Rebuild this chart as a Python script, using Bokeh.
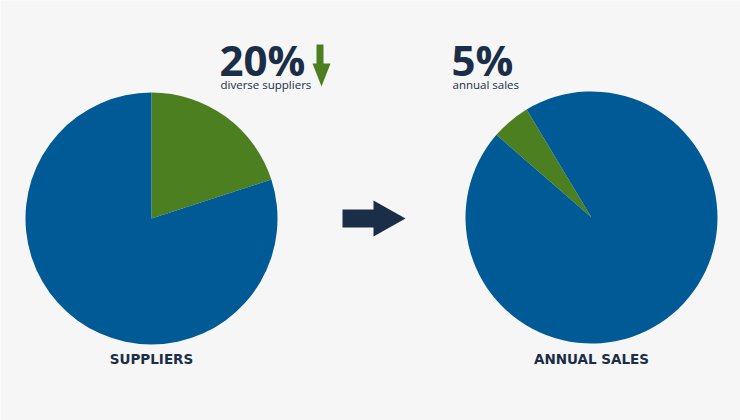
from bokeh.plotting import figure
from bokeh.models import Range1d, ColumnDataSource
from bokeh.embed import file_html
from bokeh.resources import INLINE
from bokeh.core.properties import value
import numpy as np

# ---- data ----
supplier_categories = ["Diverse suppliers", "Other suppliers"]
supplier_values = [20, 80]
sales_categories = ["Diverse suppliers", "Other suppliers"]
sales_values = [5, 95]
slice_colors = ["#4c7f1f", "#005a96"]
pie_titles = ["SUPPLIERS", "ANNUAL SALES"]
headline_values = ["20%", "5%"]
headline_labels = ["diverse suppliers", "annual sales"]

BG = "#f6f6f6"
NAVY = "#1b2e48"
GREEN = "#4c7f1f"

H = 420  # reference pixel height; y_up = H - y_pix

p = figure(width=740, height=420, output_backend="svg", toolbar_location=None,
           x_range=Range1d(0, 740), y_range=Range1d(0, 420),
           min_border=0, outline_line_color=None,
           background_fill_color=BG, border_fill_color=BG)
p.axis.visible = False
p.grid.visible = False


def pie(cx, cy, r, values, offset):
    vals = np.array(values, dtype=float)
    frac = vals / vals.sum() * 360.0
    cum = np.concatenate([[0], np.cumsum(frac)])
    starts = offset - cum[:-1]
    ends = offset - cum[1:]
    src = ColumnDataSource(dict(start=starts, end=ends, color=slice_colors))
    p.wedge(x=cx, y=cy, radius=r, start_angle="start", end_angle="end",
            start_angle_units="deg", end_angle_units="deg", direction="clock",
            color="color", line_color=None, source=src)


pie(151, H - 218, 126, supplier_values, 90)
pie(591, H - 217, 126, sales_values, 139)

# headline numbers
p.text(x=[219, 451], y=[H - 59, H - 59], text=headline_values,
       text_font=value("Open Sans"), text_font_style="bold", text_font_size="42px",
       text_color=NAVY, text_baseline="middle", text_align="left")
p.text(x=[220, 452], y=[H - 83.5, H - 83.5], text=headline_labels,
       text_font=value("Open Sans"), text_font_size="11.5px",
       text_color=NAVY, text_baseline="middle", text_align="left")

# pie titles
p.text(x=[151, 591], y=[H - 358, H - 358], text=pie_titles,
       text_font=value("DejaVu Sans"), text_font_style="bold", text_font_size="13.5px",
       text_color=NAVY, text_baseline="middle", text_align="center")

# green down arrow
gx = [316, 323, 323, 330, 321, 312, 316]
gy = [44, 44, 63, 63, 86, 63, 63]
p.patch(x=gx, y=[H - v for v in gy], color=GREEN, line_color=None)

# navy right arrow
ax = [342, 373, 373, 405, 373, 373, 342]
ay = [209, 209, 200, 218, 236, 227, 227]
p.patch(x=ax, y=[H - v for v in ay], color=NAVY, line_color=None)

open("out.html", "w").write(file_html(p, INLINE))
